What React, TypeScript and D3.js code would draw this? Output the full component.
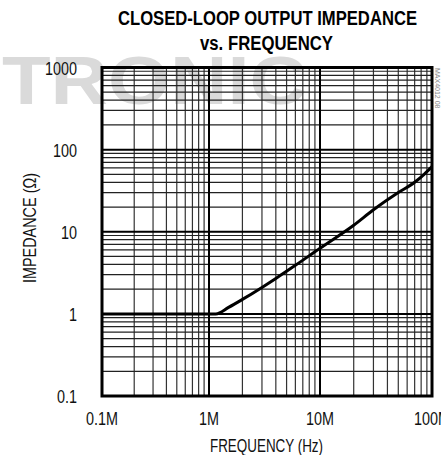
import { useEffect, useRef } from 'react'
import * as d3 from 'd3'

// impedance curve (frequency in Hz, impedance in ohms)
const freqHz = [1e5, 5e5, 1e6, 1.15e6, 1.5e6, 2e6, 3e6, 4e6, 6e6, 1e7, 2e7, 3e7, 5e7, 7e7, 8.5e7, 1e8]
const impedance = [1, 1, 1, 1, 1.2, 1.5, 2.1, 2.7, 3.9, 6.3, 12, 18.5, 30, 40, 50, 62]

const xTicks = [1e5, 1e6, 1e7, 1e8]
const xTickLabels = ['0.1M', '1M', '10M', '100M']
const yTicks = [0.1, 1, 10, 100, 1000]
const yTickLabels = ['0.1', '1', '10', '100', '1000']

const titleLines = ['CLOSED-LOOP OUTPUT IMPEDANCE', 'vs. FREQUENCY']
const xTitle = 'FREQUENCY (Hz)'
const yTitle = 'IMPEDANCE (Ω)'
const sideNote = 'MAX4012 08'
const watermark = 'TRONIC'

const W = 441
const H = 455
const sans = "'Liberation Sans', Arial, sans-serif"
const squeeze = 0.8 // fakes the narrow Helvetica of the print

const App = () => {
    const svgRef = useRef<SVGSVGElement>(null)

    useEffect(() => {
        if (!svgRef.current) return
        const svg = d3.select(svgRef.current)
        svg.selectAll('*').remove()

        // the printed decades are not quite even, so a piecewise log scale
        const x = d3.scaleLog().domain(xTicks).range([102, 209, 320, 432])
        const y = d3.scaleLog().domain([0.1, 1000]).range([396, 67.5])

        svg.append('rect').attr('width', W).attr('height', H).attr('fill', '#fff')

        // faded watermark behind everything
        svg.append('text')
            .attr('x', 2)
            .attr('y', 104)
            .attr('textLength', 305)
            .attr('lengthAdjust', 'spacingAndGlyphs')
            .attr('font-family', sans)
            .attr('font-weight', 'bold')
            .attr('font-size', 68)
            .attr('fill', '#dadada')
            .text(watermark)

        // minor grid
        const xMinor: number[] = []
        for (let e = 5; e < 8; e++) for (let k = 2; k <= 9; k++) xMinor.push(k * 10 ** e)
        const yMinor: number[] = []
        for (let e = -1; e < 3; e++) for (let k = 2; k <= 9; k++) yMinor.push(k * 10 ** e)

        const grid = svg.append('g')
        grid.selectAll('.vx')
            .data(xMinor)
            .join('line')
            .attr('x1', d => x(d))
            .attr('x2', d => x(d))
            .attr('y1', y(0.1))
            .attr('y2', y(1000))
            .attr('stroke', '#333')
            .attr('stroke-width', 1.2)
        grid.selectAll('.hy')
            .data(yMinor)
            .join('line')
            .attr('y1', d => y(d))
            .attr('y2', d => y(d))
            .attr('x1', x(1e5))
            .attr('x2', x(1e8))
            .attr('stroke', '#222')
            .attr('stroke-width', 1.2)

        // decade lines
        grid.selectAll('.mx')
            .data(xTicks.slice(1, -1))
            .join('line')
            .attr('x1', d => x(d))
            .attr('x2', d => x(d))
            .attr('y1', y(0.1))
            .attr('y2', y(1000))
            .attr('stroke', '#000')
            .attr('stroke-width', 2)
        grid.selectAll('.my')
            .data(yTicks.slice(1, -1))
            .join('line')
            .attr('y1', d => y(d))
            .attr('y2', d => y(d))
            .attr('x1', x(1e5))
            .attr('x2', x(1e8))
            .attr('stroke', '#000')
            .attr('stroke-width', 2)

        // frame
        svg.append('rect')
            .attr('x', x(1e5))
            .attr('y', y(1000))
            .attr('width', x(1e8) - x(1e5))
            .attr('height', y(0.1) - y(1000))
            .attr('fill', 'none')
            .attr('stroke', '#000')
            .attr('stroke-width', 3)

        // curve
        const pts = freqHz.map((f, i) => [f, impedance[i]] as [number, number])
        svg.append('path')
            .datum(pts)
            .attr('fill', 'none')
            .attr('stroke', '#000')
            .attr('stroke-width', 3)
            .attr('stroke-linejoin', 'round')
            .attr(
                'd',
                d3
                    .line<[number, number]>()
                    .x(d => x(d[0]))
                    .y(d => y(d[1]))
                    .curve(d3.curveMonotoneX)
            )

        // tick labels
        svg.append('g')
            .selectAll('text')
            .data(xTicks)
            .join('text')
            .attr('transform', d => `translate(${x(d)},425) scale(${squeeze},1)`)
            .attr('text-anchor', 'middle')
            .attr('font-family', sans)
            .attr('font-size', 18)
            .attr('fill', '#111')
            .text((_, i) => xTickLabels[i])

        svg.append('g')
            .selectAll('text')
            .data(yTicks)
            .join('text')
            .attr('transform', d => `translate(77,${y(d) + 7}) scale(${squeeze},1)`)
            .attr('text-anchor', 'end')
            .attr('font-family', sans)
            .attr('font-size', 18)
            .attr('fill', '#111')
            .text((_, i) => yTickLabels[i])

        // axis titles
        svg.append('text')
            .attr('x', 210)
            .attr('y', 452)
            .attr('textLength', 113)
            .attr('lengthAdjust', 'spacingAndGlyphs')
            .attr('font-family', sans)
            .attr('font-size', 18)
            .attr('fill', '#111')
            .text(xTitle)

        svg.append('text')
            .attr('transform', 'translate(36,283) rotate(-90)')
            .attr('textLength', 110)
            .attr('lengthAdjust', 'spacingAndGlyphs')
            .attr('font-family', sans)
            .attr('font-size', 18)
            .attr('fill', '#111')
            .text(yTitle)

        // chart title, squeezed to the printed widths
        const titleX = [118, 200]
        const titleW = [299, 133]
        svg.append('g')
            .selectAll('text')
            .data(titleLines)
            .join('text')
            .attr('x', (_, i) => titleX[i])
            .attr('y', (_, i) => 25 + i * 25)
            .attr('textLength', (_, i) => titleW[i])
            .attr('lengthAdjust', 'spacingAndGlyphs')
            .attr('font-family', sans)
            .attr('font-weight', 'bold')
            .attr('font-size', 20)
            .attr('fill', '#000')
            .text(d => d)

        // tiny figure id on the right edge
        svg.append('text')
            .attr('transform', 'translate(435,68) rotate(90)')
            .attr('font-family', sans)
            .attr('font-size', 7)
            .attr('fill', '#888')
            .text(sideNote)
    }, [])

    return (
        <svg
            ref={svgRef}
            width={W}
            height={H}
            style={{ position: 'absolute', left: 0, top: 0 }}
        ></svg>
    )
}

export default App
